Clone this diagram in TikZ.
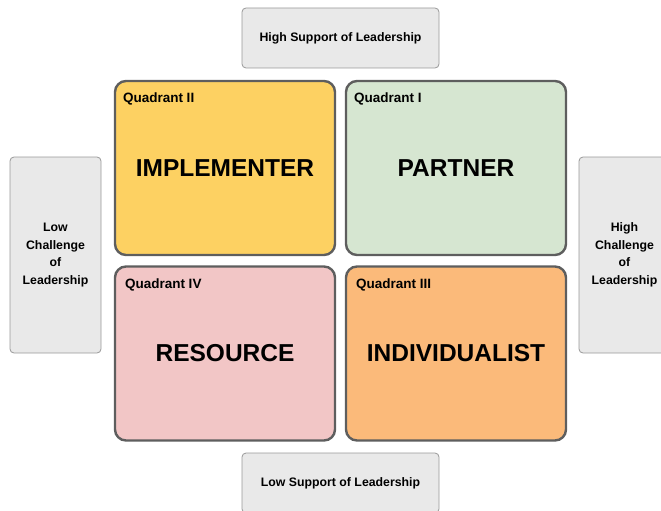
\documentclass[tikz,border=0pt]{standalone}
\usepackage{fontspec}
\setmainfont{Liberation Sans}
\usetikzlibrary{positioning}

\definecolor{yellowq}{HTML}{FDD162}
\definecolor{greenq}{HTML}{D6E6D1}
\definecolor{pinkq}{HTML}{F2C6C6}
\definecolor{orangeq}{HTML}{FBBA7A}
\definecolor{sidegray}{HTML}{E9E9E9}
\definecolor{edgegray}{HTML}{5E5E5E}

\tikzset{
  quad/.style={draw=edgegray, line width=2.4pt, rounded corners=11pt,
    minimum width=220pt, minimum height=174pt, inner sep=0pt,
    font=\fontsize{24.5}{26}\selectfont\bfseries},
  quadlabel/.style={anchor=north west, inner sep=0pt,
    font=\fontsize{13.5}{14}\selectfont\bfseries},
  side/.style={draw=gray!80, fill=sidegray, line width=0.8pt, rounded corners=4pt,
    inner sep=0pt, align=center, font=\fontsize{12.3}{17.5}\selectfont\bfseries},
}

\begin{document}
\begin{tikzpicture}[x=1pt,y=-1pt]
  \useasboundingbox (0,0) rectangle (661,511);
  \clip (0,0) rectangle (661,511);

  % the four quadrants
  \node[quad, fill=yellowq] (q2) at (225,168) {IMPLEMENTER};
  \node[quad, fill=greenq] (q1) at (456,168) {PARTNER};
  \node[quad, fill=pinkq] (q4) at (225,353.5) {RESOURCE};
  \node[quad, fill=orangeq] (q3) at (456,353.5) {INDIVIDUALIST};

  \node[quadlabel] (l2) at ([xshift=9pt,yshift=-13pt]q2.north west) {Quadrant II};
  \node[quadlabel] (l1) at ([xshift=9pt,yshift=-13pt]q1.north west) {Quadrant I};
  \node[quadlabel] (l4) at ([xshift=11pt,yshift=-13pt]q4.north west) {Quadrant IV};
  \node[quadlabel] (l3) at ([xshift=11pt,yshift=-13pt]q3.north west) {Quadrant III};

  % axis boxes
  \node[side, minimum width=197pt, minimum height=60pt] (top) at (340.5,38) {High Support of Leadership};
  \node[side, minimum width=197pt, minimum height=60pt] (bottom) at (340.5,483) {Low Support of Leadership};
  \node[side, minimum width=91pt, minimum height=196pt] (left) at (55.5,255) {Low\\Challenge\\of\\Leadership};
  \node[side, minimum width=91pt, minimum height=196pt] (right) at (624.5,255) {High\\Challenge\\of\\Leadership};
\end{tikzpicture}
\end{document}
